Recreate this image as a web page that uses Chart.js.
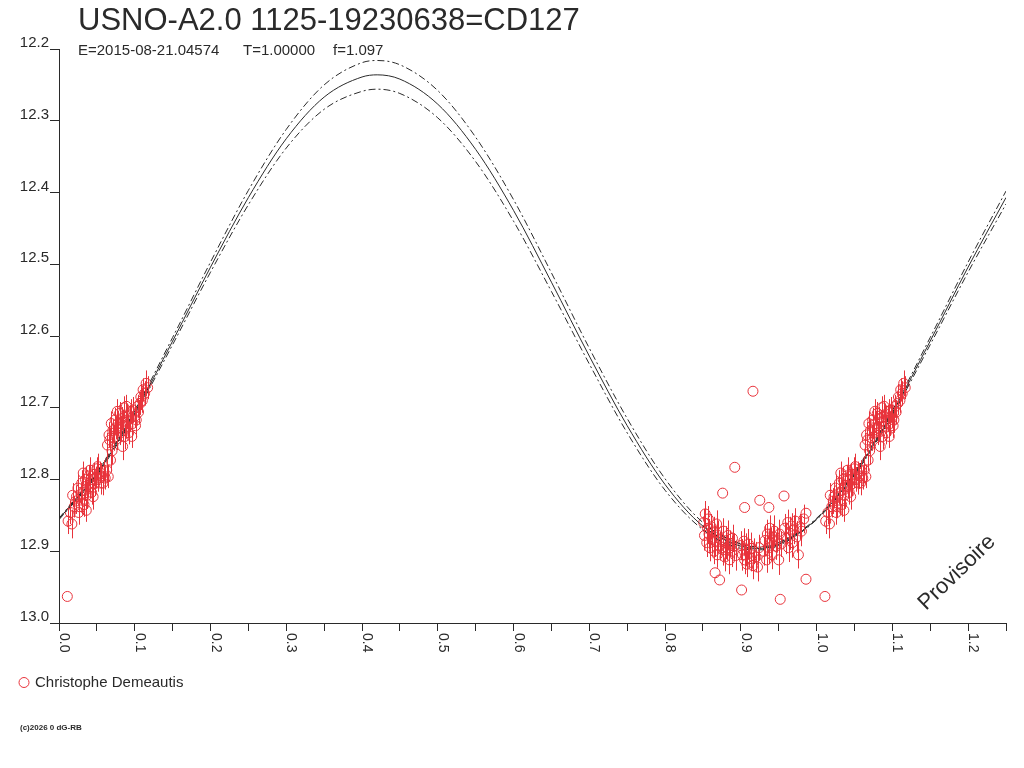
<!DOCTYPE html>
<html>
<head>
<meta charset="utf-8">
<title>USNO-A2.0 1125-19230638=CD127</title>
<script src="https://cdn.jsdelivr.net/npm/chart.js@4.4.1/dist/chart.umd.min.js"></script>
<style>
  html, body { margin: 0; padding: 0; background: #fff; }
  #chart { display: block; }
</style>
</head>
<body>
<canvas id="chart" width="1024" height="768"></canvas>
<script>
// ─── Data ──────────────────────────────────────────────────────

const TITLE = 'USNO-A2.0 1125-19230638=CD127';
const SUB_EPOCH = 'E=2015-08-21.04574';
const SUB_PERIOD = 'T=1.00000';
const SUB_FACTOR = 'f=1.097';
const OBSERVER = 'Christophe Demeautis';
const COPYRIGHT = '(c)2026 0 dG-RB';
const STAMP = 'Provisoire';

const RED = '#e8333b';
const INK = '#2a2a2a';

// fitted light curve (solid) and its two dash-dot envelopes
const CURVE_PHASE = [0, 0.05, 0.10, 0.15, 0.20, 0.25, 0.30, 0.35, 0.40, 0.42, 0.45, 0.50, 0.55, 0.60,
  0.65, 0.70, 0.75, 0.80, 0.85, 0.90, 0.925, 0.95, 1.00, 1.05, 1.10, 1.15, 1.20, 1.25];
const CURVE_MID = [12.855, 12.792, 12.707, 12.607, 12.504, 12.407, 12.325, 12.267, 12.239, 12.236, 12.242,
  12.277, 12.340, 12.425, 12.525, 12.628, 12.725, 12.807, 12.865, 12.893, 12.896, 12.890,
  12.855, 12.792, 12.707, 12.607, 12.504, 12.407];
const CURVE_BRIGHT = [12.854, 12.790, 12.704, 12.602, 12.497, 12.397, 12.312, 12.250, 12.219, 12.216, 12.222,
  12.258, 12.323, 12.410, 12.512, 12.617, 12.715, 12.799, 12.860, 12.890, 12.894, 12.888,
  12.854, 12.790, 12.704, 12.602, 12.497, 12.398];
const CURVE_FAINT = [12.856, 12.794, 12.710, 12.612, 12.511, 12.417, 12.338, 12.284, 12.259, 12.256, 12.262,
  12.296, 12.357, 12.440, 12.538, 12.639, 12.735, 12.815, 12.870, 12.896, 12.898, 12.892,
  12.856, 12.794, 12.710, 12.612, 12.511, 12.416];

// observations (phase, magnitude, 1-sigma error; 0 = no bar)
const OBS_PHASE = [
  0.012, 0.015, 0.017, 0.018, 0.020, 0.022, 0.023, 0.025, 0.026, 0.027, 0.029, 0.030, 0.031, 0.032,
  0.033, 0.034, 0.035, 0.036, 0.037, 0.038, 0.040, 0.041, 0.041, 0.043, 0.044, 0.045, 0.046, 0.047,
  0.049, 0.050, 0.051, 0.052, 0.054, 0.055, 0.056, 0.058, 0.059, 0.061, 0.063, 0.065, 0.068,
  0.064, 0.066, 0.067, 0.069, 0.070, 0.071, 0.073, 0.074, 0.075, 0.076, 0.077, 0.078, 0.080, 0.081,
  0.082, 0.083, 0.084, 0.085, 0.086, 0.087, 0.088, 0.089, 0.090, 0.091, 0.092, 0.094, 0.095, 0.096,
  0.097, 0.098, 0.100, 0.101, 0.102, 0.104, 0.105, 0.107, 0.108, 0.110, 0.111, 0.113, 0.115, 0.117,
  0.851, 0.852, 0.853, 0.855, 0.856, 0.857, 0.858, 0.859, 0.861, 0.862, 0.864, 0.865, 0.866, 0.868,
  0.869, 0.870, 0.872, 0.874, 0.876, 0.877, 0.879, 0.880, 0.882, 0.883, 0.885, 0.886, 0.888, 0.889,
  0.891, 0.893, 0.900, 0.902, 0.904, 0.905, 0.907, 0.908, 0.910, 0.911, 0.913, 0.914, 0.916, 0.918,
  0.920, 0.922, 0.924, 0.930, 0.932, 0.934, 0.935, 0.937, 0.938, 0.940, 0.941, 0.943, 0.944, 0.946,
  0.948, 0.950, 0.951, 0.953, 0.958, 0.960, 0.962, 0.963, 0.965, 0.967, 0.968, 0.970, 0.972, 0.974,
  0.976, 0.978, 0.980, 0.983,
  0.011, 0.866, 0.872, 0.876, 0.892, 0.901, 0.905, 0.916, 0.925, 0.937, 0.952, 0.957, 0.986, 0.986];
const OBS_MAG = [
  12.858, 12.846, 12.862, 12.822, 12.838, 12.830, 12.824, 12.812, 12.846, 12.838, 12.820, 12.805, 12.829, 12.791,
  12.835, 12.815, 12.800, 12.843, 12.822, 12.808, 12.795, 12.787, 12.810, 12.818, 12.800, 12.824, 12.793, 12.806,
  12.797, 12.785, 12.782, 12.800, 12.790, 12.805, 12.795, 12.805, 12.788, 12.798, 12.787, 12.796, 12.773,
  12.752, 12.738, 12.745, 12.722, 12.760, 12.732, 12.742, 12.717, 12.728, 12.740, 12.705, 12.722, 12.708, 12.735,
  12.729, 12.715, 12.754, 12.720, 12.700, 12.740, 12.726, 12.698, 12.712, 12.726, 12.735, 12.715, 12.705, 12.740,
  12.722, 12.703, 12.712, 12.725, 12.717, 12.698, 12.706, 12.694, 12.685, 12.690, 12.675, 12.680, 12.666, 12.672,
  12.860, 12.878, 12.848, 12.888, 12.868, 12.855, 12.876, 12.895, 12.866, 12.882, 12.872, 12.900, 12.886, 12.862,
  12.905, 12.878, 12.893, 12.884, 12.898, 12.872, 12.908, 12.888, 12.895, 12.878, 12.912, 12.889, 12.900, 12.882,
  12.893, 12.906, 12.892, 12.905, 12.886, 12.912, 12.898, 12.918, 12.890, 12.903, 12.910, 12.896, 12.920, 12.900,
  12.908, 12.922, 12.895, 12.900, 12.885, 12.912, 12.876, 12.895, 12.868, 12.888, 12.905, 12.880, 12.872, 12.893,
  12.884, 12.912, 12.876, 12.890, 12.868, 12.882, 12.860, 12.895, 12.875, 12.865, 12.888, 12.870, 12.858, 12.880,
  12.905, 12.866, 12.872, 12.855,
  12.963, 12.930, 12.940, 12.819, 12.783, 12.954, 12.839, 12.677, 12.829, 12.839, 12.967, 12.823, 12.847, 12.939];
const OBS_ERR = [
  0.018, 0.016, 0.020, 0.017, 0.015, 0.018, 0.016, 0.019, 0.017, 0.016, 0.015, 0.018, 0.020, 0.016,
  0.017, 0.015, 0.018, 0.016, 0.019, 0.017, 0.015, 0.018, 0.016, 0.017, 0.015, 0.018, 0.016, 0.017,
  0.015, 0.016, 0.018, 0.017, 0.015, 0.016, 0.018, 0.017, 0.015, 0.016, 0.018, 0.016, 0.015,
  0.017, 0.018, 0.016, 0.017, 0.019, 0.016, 0.018, 0.017, 0.016, 0.019, 0.017, 0.018, 0.016, 0.017,
  0.018, 0.016, 0.019, 0.017, 0.016, 0.018, 0.017, 0.016, 0.018, 0.017, 0.016, 0.018, 0.017, 0.016,
  0.017, 0.018, 0.016, 0.017, 0.018, 0.016, 0.017, 0.016, 0.018, 0.017, 0.016, 0.017, 0.018, 0.016,
  0.019, 0.021, 0.018, 0.020, 0.022, 0.018, 0.021, 0.019, 0.018, 0.021, 0.020, 0.018, 0.022, 0.019,
  0.018, 0.021, 0.020, 0.019, 0.022, 0.018, 0.020, 0.023, 0.018, 0.021, 0.020, 0.018, 0.022, 0.019,
  0.018, 0.021, 0.020, 0.022, 0.018, 0.020, 0.023, 0.018, 0.021, 0.020, 0.018, 0.022, 0.019, 0.018,
  0.021, 0.020, 0.018, 0.020, 0.022, 0.018, 0.020, 0.023, 0.018, 0.021, 0.020, 0.018, 0.022, 0.019,
  0.018, 0.021, 0.020, 0.018, 0.020, 0.022, 0.018, 0.020, 0.023, 0.018, 0.021, 0.020, 0.018, 0.022,
  0.019, 0.018, 0.021, 0.020,
  0, 0, 0, 0, 0, 0, 0, 0, 0, 0, 0, 0, 0, 0];

const X_MIN = 0, X_MAX = 1.25;
const Y_MIN = 12.2, Y_MAX = 13.0;

// ─── Helpers ───────────────────────────────────────────────────

const FONT = '"Liberation Sans", Arial, sans-serif';

function curvePoints(ys) {
  return CURVE_PHASE.map((x, i) => ({ x, y: ys[i] }));
}

// phase diagram: everything before phase 0.25 is shown again one cycle later
function obsPoints() {
  const pts = [];
  OBS_PHASE.forEach((p, i) => {
    pts.push({ x: p, y: OBS_MAG[i], err: OBS_ERR[i] });
    if (p + 1 <= X_MAX) pts.push({ x: p + 1, y: OBS_MAG[i], err: OBS_ERR[i] });
  });
  return pts;
}

function lineSet(label, ys, dash) {
  return {
    label,
    data: curvePoints(ys),
    showLine: true,
    borderColor: INK,
    borderWidth: 1,
    borderDash: dash,
    pointRadius: 0,
    cubicInterpolationMode: 'monotone',
    fill: false,
  };
}

// ─── Plugins ───────────────────────────────────────────────────

const errorBars = {
  id: 'errorBars',
  afterDatasetsDraw(chart) {
    const { ctx, scales: { x, y } } = chart;
    const ds = chart.data.datasets[3];
    ctx.save();
    ctx.fillStyle = RED;
    ds.data.forEach(p => {
      if (!p.err) return;
      const px = Math.round(x.getPixelForValue(p.x));
      const top = y.getPixelForValue(p.y - p.err);
      const bottom = y.getPixelForValue(p.y + p.err);
      ctx.fillRect(px, top, 1, bottom - top);
    });
    ctx.restore();
  },
};

const decorations = {
  id: 'decorations',
  afterDraw(chart) {
    const { ctx } = chart;
    const xs = chart.scales.x;
    ctx.save();
    ctx.fillStyle = INK;
    ctx.textBaseline = 'alphabetic';
    ctx.textAlign = 'left';

    ctx.font = `31px ${FONT}`;
    ctx.fillText(TITLE, 78, 30);

    ctx.font = `15px ${FONT}`;
    ctx.fillText(SUB_EPOCH, 78, 55);
    ctx.fillText(SUB_PERIOD, 243, 55);
    ctx.fillText(SUB_FACTOR, 333, 55);

    // x tick labels, turned a quarter clockwise
    ctx.font = `14px ${FONT}`;
    xs.ticks.forEach(t => {
      const hundredths = Math.round(t.value * 100);
      if (hundredths % 10 !== 0) return;
      const px = xs.getPixelForValue(t.value);
      ctx.save();
      ctx.translate(px + 1, 633);
      ctx.rotate(Math.PI / 2);
      ctx.fillText(t.value.toFixed(1), 0, 0);
      ctx.restore();
    });

    // legend
    ctx.strokeStyle = RED;
    ctx.lineWidth = 1;
    ctx.beginPath();
    ctx.arc(24, 682.5, 5, 0, Math.PI * 2);
    ctx.stroke();
    ctx.font = `15px ${FONT}`;
    ctx.fillText(OBSERVER, 35, 687);

    ctx.font = `bold 8px ${FONT}`;
    ctx.fillText(COPYRIGHT, 20, 730);

    ctx.font = `22px ${FONT}`;
    ctx.translate(926, 611);
    ctx.rotate(-44 * Math.PI / 180);
    ctx.fillText(STAMP, 0, 0);
    ctx.restore();
  },
};

// ─── Chart ─────────────────────────────────────────────────────

new Chart(document.getElementById('chart'), {
  type: 'scatter',
  data: {
    datasets: [
      lineSet('fit', CURVE_MID, []),
      lineSet('fit +', CURVE_BRIGHT, [7, 3, 2, 3]),
      lineSet('fit -', CURVE_FAINT, [7, 3, 2, 3]),
      {
        label: OBSERVER,
        data: obsPoints(),
        pointStyle: 'circle',
        pointRadius: 5,
        pointBorderWidth: 1,
        pointBorderColor: RED,
        pointBackgroundColor: 'rgba(0,0,0,0)',
        borderColor: RED,
        backgroundColor: 'rgba(0,0,0,0)',
        showLine: false,
      },
    ],
  },
  options: {
    responsive: false,
    animation: false,
    layout: { padding: { left: 0, top: 49, right: 18, bottom: 0 } },
    plugins: {
      legend: { display: false },
      tooltip: { enabled: false },
      title: { display: false },
    },
    scales: {
      x: {
        type: 'linear',
        min: X_MIN,
        max: X_MAX,
        ticks: { stepSize: 0.05, display: false },
        grid: { drawOnChartArea: false, drawTicks: true, tickLength: 8, color: INK, lineWidth: 1 },
        border: { display: true, color: INK, width: 1 },
        afterFit: s => { s.height = 145; },
      },
      y: {
        type: 'linear',
        reverse: true,
        min: Y_MIN,
        max: Y_MAX,
        ticks: {
          stepSize: 0.1,
          padding: 1,
          labelOffset: -6,
          color: INK,
          font: { family: FONT, size: 15 },
          callback: v => v.toFixed(1),
        },
        grid: { drawOnChartArea: false, drawTicks: true, tickLength: 9, color: INK, lineWidth: 1 },
        border: { display: true, color: INK, width: 1 },
        afterFit: s => { s.width = 59; },
      },
    },
  },
  plugins: [errorBars, decorations],
});
</script>
</body>
</html>
